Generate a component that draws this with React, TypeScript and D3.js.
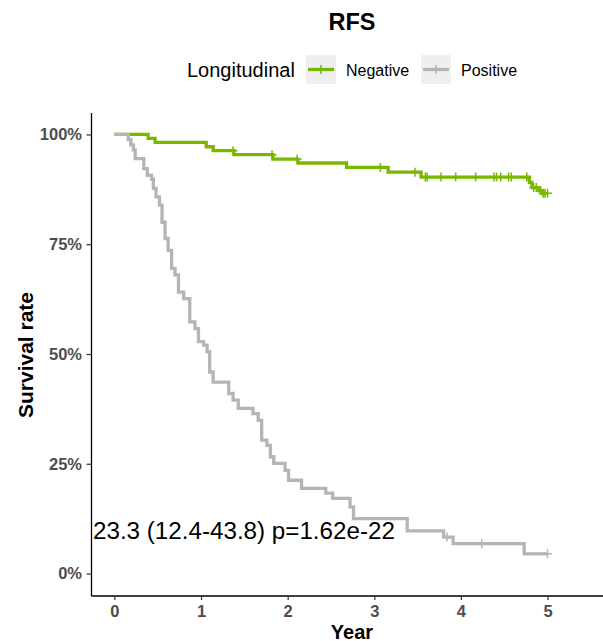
import React, { useEffect, useRef } from "react";
import * as d3 from "d3";

// Kaplan-Meier steps: time (years) where survival drops, and value after the drop
const negTimes = [0.39, 0.47, 1.06, 1.14, 1.38, 1.83, 2.12, 2.68, 3.16, 3.54, 4.79, 4.82, 4.9, 4.94];
const negSurv = [0.991, 0.982, 0.972, 0.963, 0.954, 0.944, 0.935, 0.925, 0.914, 0.903, 0.891, 0.879, 0.872, 0.866];
const negCensor = [1.37, 1.82, 2.11, 3.07, 3.47, 3.59, 3.61, 3.77, 3.94, 4.17, 4.38, 4.41, 4.46, 4.55, 4.58, 4.76, 4.84, 4.87, 4.92, 4.95, 4.97, 5.0];

const posTimes = [0.16, 0.19, 0.22, 0.24, 0.34, 0.38, 0.43, 0.45, 0.48, 0.52, 0.55, 0.585, 0.62, 0.66, 0.7, 0.74, 0.8, 0.87, 0.93, 0.97, 1.03, 1.07, 1.1, 1.14, 1.32, 1.37, 1.43, 1.6, 1.66, 1.7, 1.76, 1.8, 1.84, 1.97, 2.01, 2.16, 2.44, 2.52, 2.72, 2.76, 3.38, 3.8, 3.91, 4.73];
const posSurv = [0.988, 0.976, 0.965, 0.945, 0.922, 0.907, 0.898, 0.877, 0.858, 0.839, 0.8, 0.763, 0.736, 0.695, 0.68, 0.641, 0.626, 0.573, 0.558, 0.528, 0.52, 0.505, 0.459, 0.436, 0.41, 0.395, 0.376, 0.364, 0.349, 0.304, 0.292, 0.266, 0.251, 0.235, 0.2125, 0.194, 0.183, 0.171, 0.152, 0.125, 0.097, 0.083, 0.068, 0.045];
const posCensor = [3.84, 4.24, 5.0];

const groups = ["Negative", "Positive"];
const colors = ["#7AB800", "#B5B5B5"];
const endTime = 5.0;
const xTicks = [0, 1, 2, 3, 4, 5];
const yTicks = [0, 0.25, 0.5, 0.75, 1];
const annotation = "23.3 (12.4-43.8) p=1.62e-22";

const W = 603;
const H = 641;
const font = "'Liberation Sans', Arial, sans-serif";

function buildCurve(times, surv) {
  const pts = [[0, 1]];
  times.forEach((t, i) => pts.push([t, surv[i]]));
  pts.push([endTime, surv[surv.length - 1]]);
  return pts;
}

function survAt(times, surv, t) {
  let s = 1;
  times.forEach((tt, i) => {
    if (tt <= t) s = surv[i];
  });
  return s;
}

export default function App() {
  const ref = useRef(null);

  useEffect(() => {
    const svg = d3.select(ref.current);
    svg.selectAll("*").remove();

    const x = d3.scaleLinear().domain([-0.27, 5.64]).range([91, 603]);
    const y = d3.scaleLinear().domain([-0.05, 1.05]).range([595.5, 112.5]);

    // title
    svg.append("text")
      .attr("x", 352).attr("y", 30)
      .attr("text-anchor", "middle")
      .attr("font-family", font).attr("font-weight", "bold").attr("font-size", 23.5)
      .text("RFS");

    // legend
    svg.append("text")
      .attr("x", 187).attr("y", 77)
      .attr("font-family", font).attr("font-size", 20)
      .text("Longitudinal");
    const keyX = [306, 421];
    groups.forEach((g, i) => {
      const k = svg.append("g").attr("transform", `translate(${keyX[i]},55)`);
      k.append("rect").attr("width", 30).attr("height", 29).attr("fill", "#EFEFEF");
      k.append("line").attr("x1", 2).attr("x2", 28).attr("y1", 14.5).attr("y2", 14.5)
        .attr("stroke", colors[i]).attr("stroke-width", 3.3);
      k.append("line").attr("x1", 15).attr("x2", 15).attr("y1", 10).attr("y2", 19)
        .attr("stroke", colors[i]).attr("stroke-width", 1.5);
      svg.append("text")
        .attr("x", keyX[i] + 40).attr("y", 76)
        .attr("font-family", font).attr("font-size", 16)
        .text(g);
    });

    // axes
    const yAxis = svg.append("g")
      .attr("transform", "translate(91,0)")
      .call(d3.axisLeft(y).tickValues(yTicks).tickFormat(d3.format(".0%")).tickSize(4.5).tickSizeOuter(0).tickPadding(4.5));
    const xAxis = svg.append("g")
      .attr("transform", "translate(0,595.5)")
      .call(d3.axisBottom(x).tickValues(xTicks).tickFormat(d3.format("d")).tickSize(4.5).tickSizeOuter(0).tickPadding(5));
    [xAxis, yAxis].forEach(a => {
      a.select(".domain").attr("stroke", "#000").attr("stroke-width", 1.3);
      a.selectAll(".tick line").attr("stroke", "#333").attr("stroke-width", 1.2);
      a.selectAll(".tick text")
        .attr("font-family", font).attr("font-weight", "bold").attr("font-size", 16.5)
        .attr("fill", "#4D4D4D");
    });

    svg.append("text")
      .attr("transform", "translate(33,355) rotate(-90)")
      .attr("text-anchor", "middle")
      .attr("font-family", font).attr("font-weight", "bold").attr("font-size", 21)
      .text("Survival rate");
    svg.append("text")
      .attr("x", 352).attr("y", 638.5)
      .attr("text-anchor", "middle")
      .attr("font-family", font).attr("font-weight", "bold").attr("font-size", 20)
      .text("Year");

    // curves
    const line = d3.line().x(d => x(d[0])).y(d => y(d[1])).curve(d3.curveStepAfter);
    const series = [
      { times: negTimes, surv: negSurv, censor: negCensor },
      { times: posTimes, surv: posSurv, censor: posCensor },
    ];
    series.forEach((s, i) => {
      svg.append("path")
        .datum(buildCurve(s.times, s.surv))
        .attr("d", line)
        .attr("fill", "none")
        .attr("stroke", colors[i])
        .attr("stroke-width", 3.3);
      svg.append("g")
        .selectAll("path")
        .data(s.censor)
        .join("path")
        .attr("d", t => {
          const cx = x(t), cy = y(survAt(s.times, s.surv, t));
          return `M${cx - 4.5},${cy}H${cx + 4.5}M${cx},${cy - 4.5}V${cy + 4.5}`;
        })
        .attr("stroke", colors[i])
        .attr("stroke-width", 1.5)
        .attr("fill", "none");
    });

    // hazard ratio annotation
    svg.append("text")
      .attr("x", 93).attr("y", 539)
      .attr("font-family", font).attr("font-size", 24.2)
      .text(annotation);
  }, []);

  return (
    <svg ref={ref} width={W} height={H} style={{ position: "absolute", left: 0, top: 0, background: "#fff" }} />
  );
}
